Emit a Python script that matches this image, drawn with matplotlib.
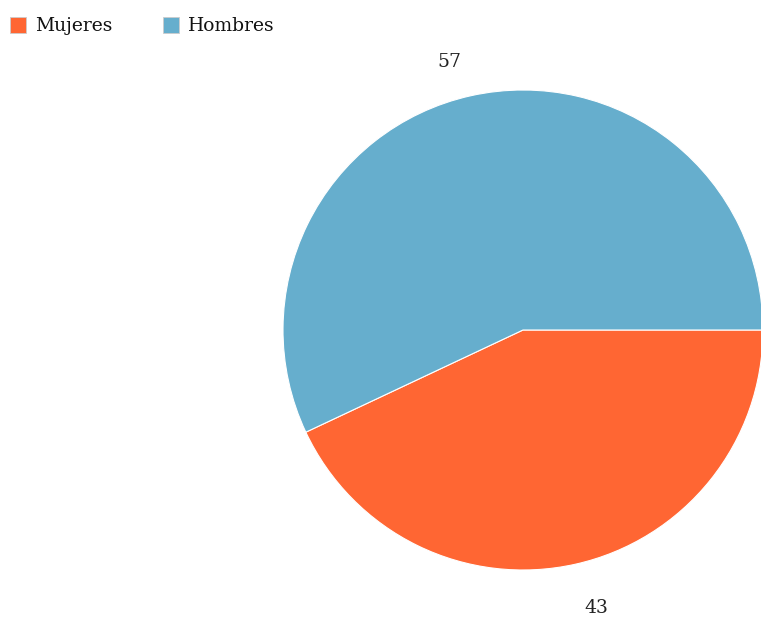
import matplotlib
matplotlib.use('Agg')
from matplotlib import pyplot as plt
from matplotlib.patches import Rectangle
import numpy as np

categorias = ['Mujeres', 'Hombres']
valores = [43, 57]
colores = ['#FF6633', '#66AECD']

plt.rcParams['font.family'] = ['DejaVu Serif']

fig = plt.figure(figsize=(7.61, 6.19), dpi=100)
ax = fig.add_axes([0, 0, 1, 1])

centro = (523, 289)
radio = 240
wedges, _ = ax.pie(valores, colors=colores, startangle=0, counterclock=False,
                   center=centro, radius=radio, frame=True,
                   wedgeprops={'edgecolor': 'white', 'linewidth': 0.8})

# etiquetas con el valor, algo fuera del borde
for w, v in zip(wedges, valores):
    ang = np.deg2rad((w.theta1 + w.theta2) / 2 + 2.5)
    d = radio * 1.18
    ax.text(centro[0] + d * np.cos(ang), centro[1] + d * np.sin(ang) - 5, str(v),
            ha='center', va='center', fontsize=13.5, color='#222222')

ax.set_xlim(0, 761)
ax.set_ylim(0, 619)
ax.set_aspect('equal')
ax.axis('off')

# leyenda arriba a la izquierda
pos_x = [10, 163]
for x, nombre, c in zip(pos_x, categorias, colores):
    ax.add_patch(Rectangle((x, 619 - 33), 16, 16, facecolor=c, edgecolor='#cccccc', linewidth=0.6))
    ax.text(x + 25, 619 - 26, nombre, fontsize=13.5, va='center', ha='left', color='#111111')

fig.savefig('out.png', dpi=100)
